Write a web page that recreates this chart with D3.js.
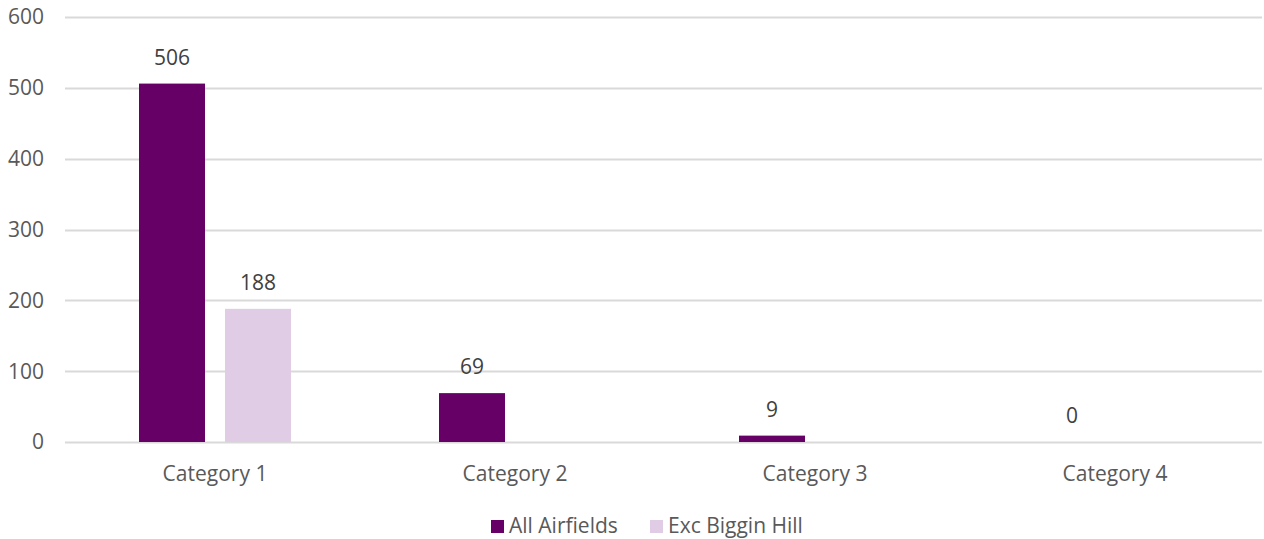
<!DOCTYPE html>
<html><head><meta charset="utf-8">
<script src="https://cdn.jsdelivr.net/npm/d3@7"></script>
<style>
html,body{margin:0;padding:0;background:#fff;}
svg{display:block;font-family:"Open Sans",Lato,sans-serif;}
</style></head>
<body><svg id="chart" width="1264" height="539"></svg>
<script>
const categories = ["Category 1","Category 2","Category 3","Category 4"];
const seriesNames = ["All Airfields","Exc Biggin Hill"];
const allAirfields = [506, 69, 9, 0];
const excBigginHill = [188, null, null, null];
const yTicks = [0,100,200,300,400,500,600];
const colors = ["#660066","#E0CCE4"];

(function(){
const svg = d3.select("#chart");
const fs = 21;
const plotL = 65, plotR = 1262, plotT = 17, plotB = 442;
const x = d3.scaleBand().domain(categories).range([plotL, plotL + 1200]).paddingInner(0).paddingOuter(0);
const y = d3.scaleLinear().domain([0,600]).range([plotB, plotT]);
const barW = 66, gap = 20;
const xs = d3.scaleBand().domain(seriesNames).range([0, barW*2+gap]).paddingInner(gap/(barW+gap)).paddingOuter(0);

svg.append("g").selectAll("line").data(yTicks).join("line")
  .attr("x1", plotL).attr("x2", plotR)
  .attr("y1", d=>Math.round(y(d))+0.5).attr("y2", d=>Math.round(y(d))+0.5)
  .attr("stroke", "#d9d9d9").attr("stroke-width", 2);

svg.append("g").selectAll("text").data(yTicks).join("text")
  .attr("x", 44).attr("y", d=>y(d)).attr("dy","0.35em")
  .attr("text-anchor","end").attr("fill","#595959").attr("font-size",fs)
  .text(d=>d);

const series = [allAirfields, excBigginHill];
const data = [];
categories.forEach((c,i)=>{
  series.forEach((s,j)=>{
    if (s[i] !== null) data.push({cat:c, name:seriesNames[j], v:s[i], j});
  });
});
const groupOffset = (x.bandwidth() - (barW*2+gap))/2;

svg.append("g").selectAll("rect").data(data).join("rect")
  .attr("x", d=>x(d.cat)+groupOffset+xs(d.name))
  .attr("width", xs.bandwidth())
  .attr("y", d=>y(d.v))
  .attr("height", d=>plotB - y(d.v))
  .attr("fill", d=>colors[d.j]);

svg.append("g").selectAll("text").data(data).join("text")
  .attr("x", d=>x(d.cat)+groupOffset+xs(d.name)+xs.bandwidth()/2)
  .attr("y", d=>y(d.v)-26).attr("dy","0.35em")
  .attr("text-anchor","middle").attr("fill","#404040").attr("font-size",fs)
  .text(d=>d.v);

svg.append("g").selectAll("text").data(categories).join("text")
  .attr("x", d=>x(d)+x.bandwidth()/2).attr("y", 474).attr("dy","0.35em")
  .attr("text-anchor","middle").attr("fill","#595959").attr("font-size",fs)
  .text(d=>d);

const leg = svg.append("g");
const legX = [491, 650];
seriesNames.forEach((n,i)=>{
  leg.append("rect").attr("x", legX[i]).attr("y", 520).attr("width", 13).attr("height", 13).attr("fill", colors[i]);
  leg.append("text").attr("x", legX[i]+18).attr("y", 526).attr("dy","0.35em")
    .attr("fill","#595959").attr("font-size",fs).text(n);
});
})();
</script></body></html>
